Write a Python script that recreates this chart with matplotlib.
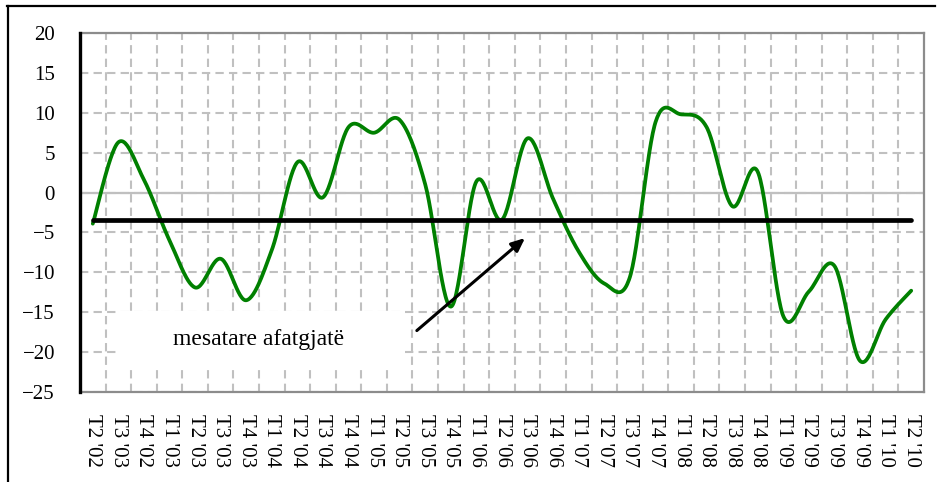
import numpy as np
import matplotlib.pyplot as plt
from matplotlib.lines import Line2D
from matplotlib.patches import Rectangle

# quarter labels as printed on the chart
quarters = ["T2 '02", "T3 '03", "T4 '02", "T1 '03", "T2 '03", "T3 '03", "T4 '03",
            "T1 '04", "T2 '04", "T3 '04", "T4 '04", "T1 '05", "T2 '05", "T3 '05",
            "T4 '05", "T1 '06", "T2 '06", "T3 '06", "T4 '06", "T1 '07", "T2 '07",
            "T3 '07", "T4 '07", "T1 '08", "T2 '08", "T3 '08", "T4 '08", "T1 '09",
            "T2 '09", "T3 '09", "T4 '09", "T1 '10", "T2 '10"]
values = [-3.9, 6.3, 1.6, -6.0, -11.9, -8.3, -13.5, -7.2, 3.8, -0.6, 8.2, 7.5,
          9.1, 1.0, -14.3, 1.4, -3.4, 6.8, -0.8, -7.4, -11.4, -10.6, 8.8, 9.8,
          8.2, -1.7, 2.6, -15.5, -12.4, -9.2, -21.1, -15.9, -12.3]
long_term_mean = -3.4
annotation = "mesatare afatgjatë"

serif = ["Liberation Serif", "DejaVu Serif"]
plt.rcParams["font.family"] = serif

W, H = 944, 482
fig = plt.figure(figsize=(W / 100, H / 100), dpi=100)
ax = fig.add_axes([80 / W, 1 - 392 / H, 844 / W, 359 / H])

n = len(values)
x = np.arange(n)
ax.set_xlim(-0.5, n - 0.5)
ax.set_ylim(-25, 20)

# Excel-style smoothed line (Bezier through the points), done in pixel space
sx, sy = 844 / n, 359 / 45
P = np.column_stack([x * sx, np.array(values) * sy])
Pext = np.vstack([P[0], P, P[-1]])
t = np.linspace(0, 1, 30)[:, None]
curve = []
for i in range(n - 1):
    p0, p1, p2, p3 = Pext[i], Pext[i + 1], Pext[i + 2], Pext[i + 3]
    c1 = p1 + (p2 - p0) / 6
    c2 = p2 - (p3 - p1) / 6
    seg = ((1 - t) ** 3) * p1 + 3 * ((1 - t) ** 2) * t * c1 + 3 * (1 - t) * t ** 2 * c2 + t ** 3 * p2
    curve.append(seg)
curve = np.vstack(curve)
ax.plot(curve[:, 0] / sx, curve[:, 1] / sy, color="#008000", lw=2.7,
        solid_capstyle="round", zorder=4)

ax.plot([0, n - 1], [long_term_mean, long_term_mean], color="black", lw=3.4,
        solid_capstyle="round", zorder=5)

# grid
ax.set_yticks(np.arange(-25, 21, 5))
ax.set_xticks(x)
ax.set_xticks(np.arange(0.5, n - 1, 1), minor=True)
ax.grid(axis="y", which="major", color="#c0c0c0", lw=1.5, ls=(0, (4, 2.5)), zorder=0)
ax.grid(axis="x", which="minor", color="#c0c0c0", lw=1.5, ls=(0, (4, 2.5)), zorder=0)
ax.axhline(0, color="#bfbfbf", lw=1.6, zorder=0.5)
ax.set_axisbelow(True)

# white box behind the label
ax.add_patch(Rectangle((0.95, -21.9), 11.14, 7.1, facecolor="white",
                       edgecolor="none", zorder=1))
ax.text(6.5, -18.4, annotation, fontsize=17, ha="center", va="center", zorder=6)
ax.annotate("", xy=(16.9, -5.7), xytext=(12.67, -17.3),
            arrowprops=dict(arrowstyle="-|>,head_length=0.8,head_width=0.35",
                            color="black", lw=2.2, shrinkA=0, shrinkB=0),
            zorder=6)

ax.set_xticklabels(quarters, rotation=270, fontsize=15, va="top", ha="center")
ax.tick_params(axis="both", which="both", length=0)
ax.tick_params(axis="x", pad=16)
ax.tick_params(axis="y", pad=18, labelsize=15)

for s in ["top", "right", "bottom"]:
    ax.spines[s].set_color("#8c8c8c")
    ax.spines[s].set_linewidth(1.6)
ax.spines["left"].set_color("black")
ax.spines["left"].set_linewidth(2.4)
ax.spines["left"].set_zorder(7)

# outer frame (top and left edges visible)
fig.add_artist(Line2D([7 / W, 935 / W], [1 - 6 / H, 1 - 6 / H], color="black", lw=1.6,
                      transform=fig.transFigure))
fig.add_artist(Line2D([7.5 / W, 7.5 / W], [0, 1 - 6 / H], color="black", lw=1.6,
                      transform=fig.transFigure))

fig.savefig("out.png", dpi=100)
